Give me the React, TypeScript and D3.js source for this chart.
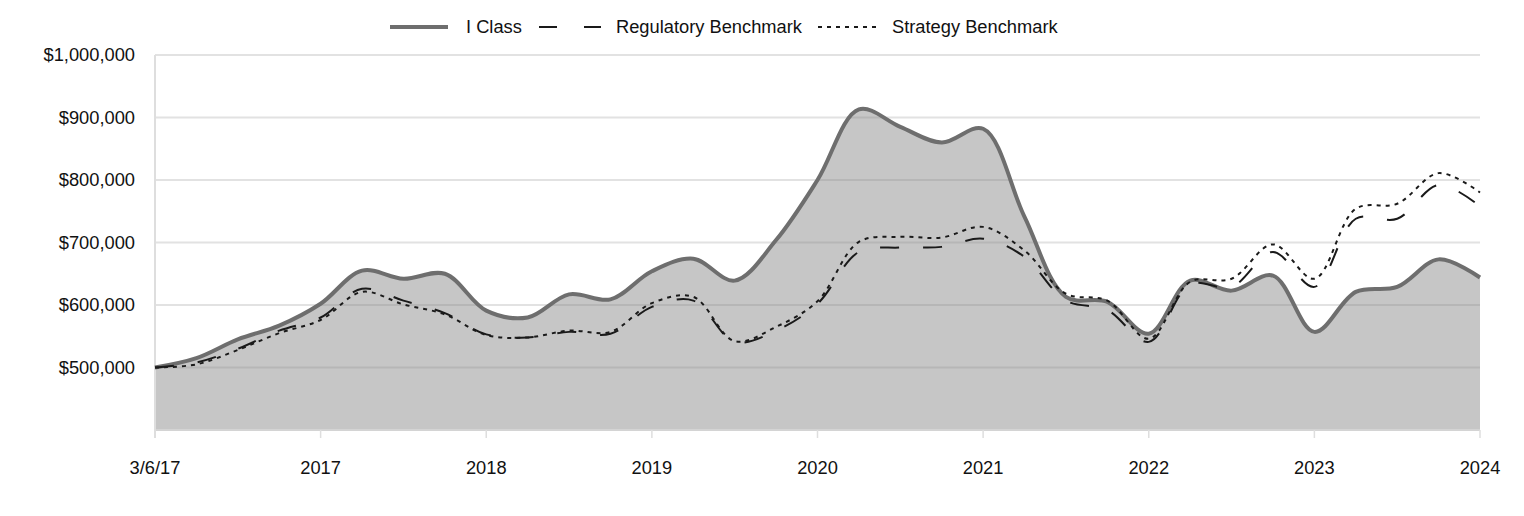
import React from "react";
import * as d3 from "d3";

const tickLabels = ["3/6/17", "2017", "2018", "2019", "2020", "2021", "2022", "2023", "2024"];

const iClass = [
  500000, 515000, 545000, 567000, 602000, 655000, 642000, 650000, 591000,
  580000, 617000, 609000, 654000, 674000, 639000, 704000, 800000,
  913000, 885000, 860000, 882000, 741000, 613000, 605000, 554000,
  639000, 623000, 647000, 557000, 621000, 629000, 673000, 644000,
];

const regulatory = [
  500000, 508000, 530000, 559000, 580000, 626000, 607000, 587000, 553000,
  548000, 557000, 554000, 597000, 607000, 541000, 559000, 602000,
  685000, 692000, 693000, 706000, 677000, 607000, 592000, 541000,
  633000, 629000, 685000, 629000, 738000, 738000, 792000, 758000,
];

const strategy = [
  500000, 505000, 528000, 555000, 576000, 621000, 601000, 585000, 552000,
  548000, 559000, 557000, 603000, 613000, 542000, 565000, 606000,
  701000, 709000, 708000, 725000, 687000, 618000, 607000, 546000,
  637000, 642000, 697000, 642000, 754000, 762000, 811000, 780000,
];

const yTicks = [500000, 600000, 700000, 800000, 900000, 1000000];

const legendItems = [
  { name: "I Class", kind: "solid" },
  { name: "Regulatory Benchmark", kind: "dash" },
  { name: "Strategy Benchmark", kind: "dot" },
];

export default function App() {
  const W = 1524;
  const H = 516;
  const left = 155;
  const right = 1480;
  const top = 55;
  const bottom = 430;
  const n = iClass.length;

  const x = d3.scaleLinear().domain([0, n - 1]).range([left, right]);
  const y = d3.scaleLinear().domain([400000, 1000000]).range([bottom, top]);

  const curve = d3.curveCatmullRom.alpha(0.5);
  const area = d3
    .area<number>()
    .x((_, i) => x(i))
    .y0(bottom)
    .y1((d) => y(d))
    .curve(curve);
  const line = d3
    .line<number>()
    .x((_, i) => x(i))
    .y((d) => y(d))
    .curve(curve);

  const fmt = (v: number) => "$" + d3.format(",")(v);
  const font = "Liberation Sans, Arial, sans-serif";
  const fs = 18.3;
  const tickStep = (n - 1) / (tickLabels.length - 1);

  const legendX = [390, 539, 818];
  const legendTextX = [466, 616, 892];

  return (
    <svg width={W} height={H} style={{ position: "absolute", left: 0, top: 0 }}>
      <rect x={0} y={0} width={W} height={H} fill="#fff" />
      {yTicks.map((t) => (
        <line key={t} x1={left} x2={right} y1={y(t)} y2={y(t)} stroke="#e2e2e2" strokeWidth={2} />
      ))}
      <path d={area(iClass) || ""} fill="#808080" fillOpacity={0.45} />
      <line x1={left} x2={right} y1={bottom} y2={bottom} stroke="#d4d4d4" strokeWidth={2} />
      <line x1={left} x2={left} y1={top} y2={bottom + 8} stroke="#dedede" strokeWidth={2} />
      {tickLabels.map((lab, i) => (
        <g key={lab}>
          <line x1={x(i * tickStep)} x2={x(i * tickStep)} y1={bottom} y2={bottom + 8} stroke="#dedede" strokeWidth={1.5} />
          <text x={x(i * tickStep)} y={474} textAnchor="middle" fontFamily={font} fontSize={fs} fill="#111">
            {lab}
          </text>
        </g>
      ))}
      {yTicks.map((t) => (
        <text key={t} x={135} y={y(t) + 6} textAnchor="end" fontFamily={font} fontSize={fs} fill="#111">
          {fmt(t)}
        </text>
      ))}
      <path d={line(iClass) || ""} fill="none" stroke="#6e6e6e" strokeWidth={4} />
      <path d={line(regulatory) || ""} fill="none" stroke="#1a1a1a" strokeWidth={2} strokeDasharray="19 24" />
      <path d={line(strategy) || ""} fill="none" stroke="#1a1a1a" strokeWidth={2} strokeDasharray="4 5" />

      {legendItems.map((it, i) => (
        <g key={it.name}>
          {it.kind === "solid" && (
            <line x1={legendX[i]} x2={legendX[i] + 58} y1={27} y2={27} stroke="#6e6e6e" strokeWidth={4} />
          )}
          {it.kind === "dash" && (
            <line x1={legendX[i]} x2={legendX[i] + 62} y1={27} y2={27} stroke="#1a1a1a" strokeWidth={2} strokeDasharray="18 27" />
          )}
          {it.kind === "dot" && (
            <line x1={legendX[i]} x2={legendX[i] + 62} y1={27} y2={27} stroke="#1a1a1a" strokeWidth={2} strokeDasharray="4 5" />
          )}
          <text x={legendTextX[i]} y={33} fontFamily={font} fontSize={fs} fill="#111">
            {it.name}
          </text>
        </g>
      ))}
    </svg>
  );
}
